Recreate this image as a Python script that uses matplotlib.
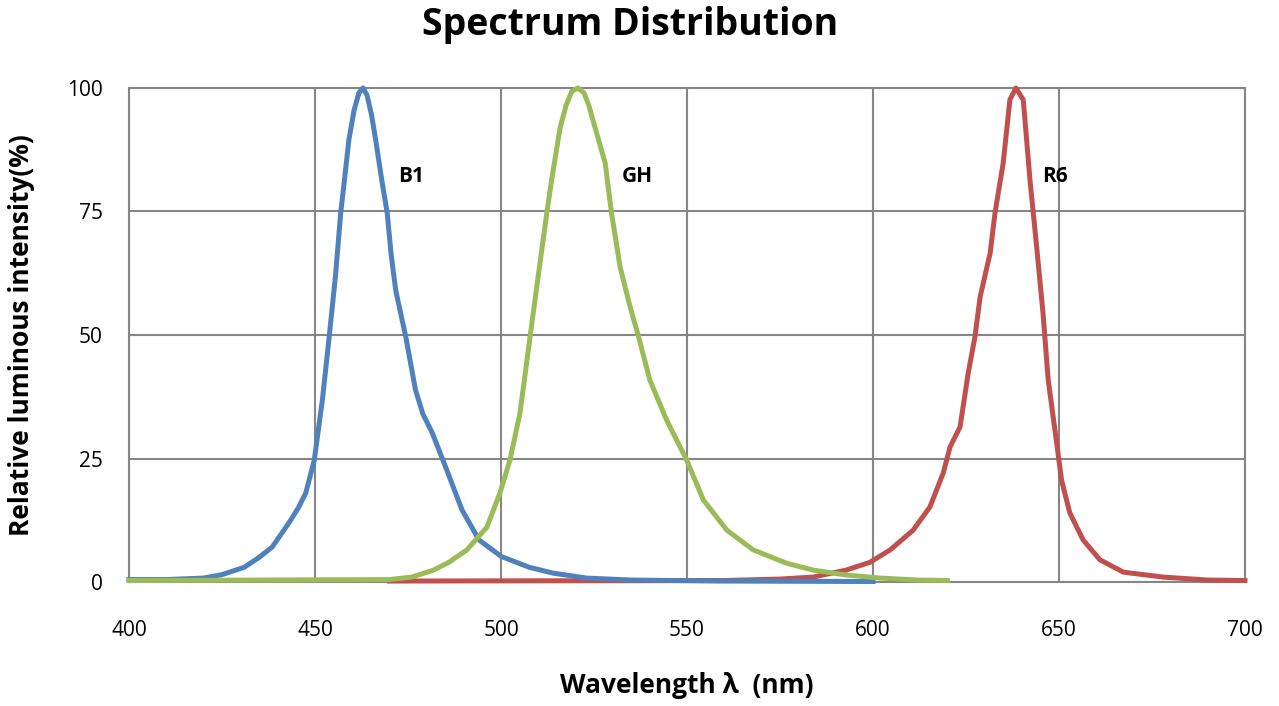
import numpy as np
import matplotlib.pyplot as plt

plt.rcParams['font.family'] = ['Open Sans', 'DejaVu Sans']

# Curves: wavelength (nm) and relative intensity (%)
b1_wl = [400, 410, 420, 425, 431, 435, 438.5, 443, 445.5, 447.5, 449.8, 452, 453.8,
         455.5, 456.9, 458, 459.1, 460.5, 461.8, 462.9, 464, 465.2, 466.3, 467.8,
         469.4, 470.5, 471.7, 474.4, 477, 479, 481.5, 485.1, 489.5, 494.1, 500,
         507.5, 514, 523, 535, 560, 600]
b1_val = [0.5, 0.5, 0.8, 1.5, 3, 5, 7.1, 12, 15, 18, 24.7, 37, 49.6,
          62, 74.7, 82, 89.5, 95.5, 99, 100, 98.5, 94.5, 89.5, 82,
          74.7, 66, 59, 49.6, 38.9, 34, 30.2, 23.3, 14.6, 8.5, 5.2,
          3, 1.8, 0.8, 0.4, 0.2, 0.1]

gh_wl = [400, 470, 476, 481.8, 486, 490.8, 496.2, 499.7, 502.4, 505.1, 507.8, 509.6,
         512.3, 513.6, 515.9, 517.5, 519, 520.7, 522.3, 523.6, 524.7, 528, 529.7, 532,
         534.7, 537, 540, 544.5, 549.9, 554.4, 560.7, 567.8, 576.8, 584, 593, 602,
         612, 620]
gh_val = [0.3, 0.5, 1, 2.4, 4, 6.5, 11.1, 18, 24.7, 34.2, 49.6, 59.7,
          74.7, 81.4, 92, 96.5, 99.3, 100, 99, 96.5, 93.5, 84.8, 74.7, 63.8,
          55.7, 49.6, 40.9, 32.8, 24.7, 16.6, 10.5, 6.5, 3.8, 2.4, 1.4, 0.8,
          0.4, 0.3]

r6_wl = [470, 560, 575, 583.9, 592.7, 599.2, 604.6, 610.8, 615.3, 618.9, 620.7,
         623.4, 625.6, 627.4, 628.8, 631.5, 632.8, 635, 636.8, 638.4, 640.4, 642.2,
         644, 645.7, 647.1, 648.9, 650.7, 652.9, 656.5, 661, 667.3, 678, 690, 700]
r6_val = [0.2, 0.3, 0.6, 1, 2.4, 4, 6.5, 10.5, 15.2, 22.1, 27.3,
          31.4, 42.3, 49.6, 57.7, 66.6, 74.7, 84.8, 97.6, 100, 97.6, 81.4,
          67.8, 54.5, 40.9, 30.8, 20.6, 14, 8.5, 4.5, 2, 1, 0.4, 0.3]

labels = ['B1', 'GH', 'R6']
label_x = [475.8, 536.6, 649]
label_y = [82, 82, 82]

x_ticks = [400, 450, 500, 550, 600, 650, 700]
y_ticks = [0, 25, 50, 75, 100]

fig = plt.figure(figsize=(12.79, 7.06), dpi=100)
ax = fig.add_axes([0.1009, 0.1756, 0.8725, 0.6998])

grid_col = '#868686'
ax.plot(r6_wl, r6_val, color='#C0504D', lw=3.6, clip_on=False, zorder=3)
ax.plot(b1_wl, b1_val, color='#4F81BD', lw=3.6, clip_on=False, zorder=4)
ax.plot(gh_wl, gh_val, color='#9BBB59', lw=3.6, clip_on=False, zorder=5)

for t, x, y in zip(labels, label_x, label_y):
    ax.text(x, y, t, fontsize=15, fontweight='bold', ha='center', va='center', zorder=6)

ax.set_xlim(400, 700)
ax.set_ylim(0, 100)
ax.set_xticks(x_ticks)
ax.set_yticks(y_ticks)
ax.grid(True, color=grid_col, lw=1.5)
ax.set_axisbelow(True)
for s in ax.spines.values():
    s.set_color(grid_col)
    s.set_linewidth(1.5)
ax.tick_params(axis='x', length=0, pad=27, labelsize=15)
ax.tick_params(axis='y', length=0, pad=19, labelsize=15)

fig.text(0.5367, 0.0297, 'Wavelength λ  (nm)', fontsize=19, fontweight='bold',
         ha='center', va='center')
fig.text(0.0172, 0.5255, 'Relative luminous intensity(%)', fontsize=19, fontweight='bold',
         ha='center', va='center', rotation=90)
fig.text(0.493, 0.951, 'Spectrum Distribution', fontsize=27, fontweight='bold',
         ha='center', va='baseline')

plt.savefig('out.png', dpi=100)
